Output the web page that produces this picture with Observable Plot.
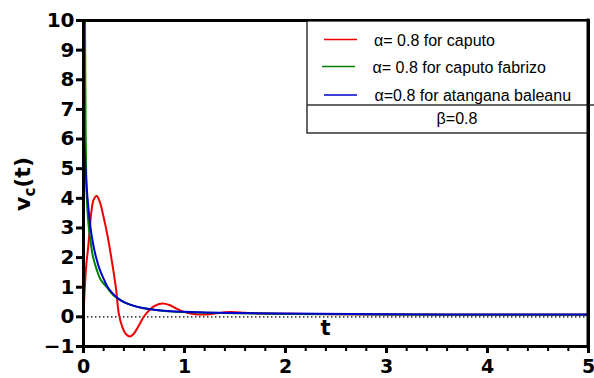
<!DOCTYPE html>
<html>
<head>
<meta charset="utf-8">
<script src="https://cdn.jsdelivr.net/npm/d3@7"></script>
<script src="https://cdn.jsdelivr.net/npm/@observablehq/plot@0.6"></script>
<style>
  html, body { margin: 0; padding: 0; background: #fff; }
</style>
</head>
<body>
<div id="chart"></div>
<script>
// ---- data ----
const seriesNames = ["α= 0.8 for caputo", "α= 0.8 for caputo fabrizo", "α=0.8 for atangana baleanu"];
const betaLabel = "β=0.8";

const tCaputo = [0, 0.01, 0.02, 0.03, 0.045, 0.06, 0.08, 0.1, 0.13, 0.16, 0.2, 0.24, 0.28, 0.32, 0.35, 0.38, 0.42, 0.46, 0.5, 0.55, 0.6, 0.65, 0.7, 0.78, 0.85, 0.92, 1.0, 1.1, 1.2, 1.3, 1.45, 1.6, 1.8, 2.2, 3, 4, 5];
const vCaputo = [0, 0.8, 1.4, 1.85, 2.3, 2.9, 3.6, 3.95, 4.08, 3.9, 3.35, 2.7, 1.9, 1.0, 0.1, -0.3, -0.58, -0.66, -0.56, -0.28, 0.02, 0.22, 0.36, 0.45, 0.4, 0.28, 0.16, 0.09, 0.08, 0.11, 0.16, 0.14, 0.11, 0.1, 0.08, 0.07, 0.07];

const tFabrizio = [0.012, 0.015, 0.018, 0.021, 0.026, 0.033, 0.053, 0.075, 0.096, 0.13, 0.17, 0.23, 0.3, 0.35, 0.4, 0.5, 0.6, 0.7, 0.8, 1.0, 1.2, 1.5, 2, 3, 4, 5];
const vFabrizio = [11, 10, 8, 6.3, 5.0, 4.0, 3.0, 2.4, 2.0, 1.6, 1.25, 1.0, 0.72, 0.6, 0.5, 0.37, 0.29, 0.24, 0.2, 0.16, 0.14, 0.12, 0.1, 0.08, 0.07, 0.07];

const tAB = [0, 0.005, 0.01, 0.02, 0.03, 0.04, 0.055, 0.07, 0.09, 0.125, 0.16, 0.2, 0.24, 0.3, 0.35, 0.4, 0.5, 0.6, 0.7, 0.8, 1.0, 1.2, 1.5, 2, 3, 4, 5];
const vAB = [6.35, 6.0, 5.6, 5.0, 4.45, 4.0, 3.45, 3.0, 2.55, 2.0, 1.6, 1.28, 1.0, 0.75, 0.6, 0.5, 0.37, 0.29, 0.24, 0.21, 0.17, 0.15, 0.13, 0.11, 0.09, 0.08, 0.08];

const colors = ["#ee0000", "#008000", "#0000cc"];
const xTicks = [0, 1, 2, 3, 4, 5];
const xMinorTicks = d3.range(0, 26).map(i => i / 5);
const yTicks = [-1, 0, 1, 2, 3, 4, 5, 6, 7, 8, 9, 10];

// ---- build tables ----
const dCaputo = tCaputo.map((t, i) => ({t, v: vCaputo[i]}));
const dFabrizio = tFabrizio.map((t, i) => ({t, v: vFabrizio[i]}));
const dAB = tAB.map((t, i) => ({t, v: vAB[i]}));

const W = 594, H = 378;
const plot = Plot.plot({
  width: W,
  height: H,
  marginLeft: 83,
  marginRight: 6,
  marginTop: 20,
  marginBottom: 32,
  style: {fontFamily: "DejaVu Sans", fontSize: "20px", fontWeight: "bold", color: "black", background: "white", overflow: "visible"},
  x: {domain: [0, 5], axis: null},
  y: {domain: [-1, 10], axis: null},
  marks: [
    Plot.ruleY([0], {stroke: "black", strokeWidth: 1.3, strokeDasharray: "1.5,2.5"}),
    Plot.line(dCaputo, {x: "t", y: "v", stroke: colors[0], strokeWidth: 2, curve: "catmull-rom", clip: true}),
    Plot.line(dFabrizio, {x: "t", y: "v", stroke: colors[1], strokeWidth: 2, curve: "catmull-rom", clip: true}),
    Plot.line(dAB, {x: "t", y: "v", stroke: colors[2], strokeWidth: 2, curve: "catmull-rom", clip: true}),
    Plot.frame({stroke: "black", strokeWidth: 3}),
    Plot.axisY(yTicks, {tickSize: 7, tickPadding: 2, strokeWidth: 3, label: null}),
    Plot.axisX(xMinorTicks, {tickSize: 5, strokeWidth: 2, tickFormat: () => "", label: null}),
    Plot.axisX(xTicks, {tickSize: 7, tickPadding: 6, strokeWidth: 3, fontSize: 19, label: null})
  ]
});
document.getElementById("chart").appendChild(plot);

// ---- annotations and legend ----
const svg = d3.select(plot);
const xs = plot.scale("x"), ys = plot.scale("y");

// y-axis title v_c(t)
const yt = svg.append("text")
  .attr("transform", `translate(30,${(ys.apply(10) + ys.apply(-1)) / 2 + 1}) rotate(-90)`)
  .attr("text-anchor", "middle")
  .attr("font-family", "DejaVu Sans")
  .attr("font-weight", "bold")
  .attr("font-size", 22)
  .attr("fill", "black");
yt.append("tspan").text("v");
yt.append("tspan").attr("font-size", 15).attr("dy", 5).text("c");
yt.append("tspan").attr("dy", -5).text("(t)");

// x-axis title "t" placed inside the plot
svg.append("text")
  .attr("x", xs.apply(2.4))
  .attr("y", ys.apply(-0.63))
  .attr("text-anchor", "middle")
  .attr("font-family", "DejaVu Sans")
  .attr("font-weight", "bold")
  .attr("font-size", 21)
  .attr("fill", "black")
  .text("t");

// legend box
const lg = svg.append("g").attr("font-family", "Liberation Sans").attr("font-weight", "normal").attr("font-size", 16).attr("text-anchor", "start");
lg.append("rect").attr("x", 307).attr("y", 21).attr("width", 281).attr("height", 112)
  .attr("fill", "white").attr("stroke", "black").attr("stroke-width", 1.2);
lg.append("line").attr("x1", 307).attr("x2", 594).attr("y1", 105).attr("y2", 105)
  .attr("stroke", "#333").attr("stroke-width", 1.4);
const rows = [
  {x1: 324, x2: 357, ly: 39.5, tx: 374, ty: 45.5},
  {x1: 322, x2: 355, ly: 66.5, tx: 372.5, ty: 72.5},
  {x1: 324, x2: 357, ly: 95, tx: 374.5, ty: 100.5}
];
rows.forEach((r, i) => {
  lg.append("line").attr("x1", r.x1).attr("x2", r.x2).attr("y1", r.ly).attr("y2", r.ly)
    .attr("stroke", colors[i]).attr("stroke-width", 1.3);
  lg.append("text").attr("x", r.tx).attr("y", r.ty).attr("text-anchor", "start").attr("fill", "black").text(seriesNames[i]);
});
lg.append("text").attr("x", 457).attr("y", 123.5).attr("text-anchor", "middle").attr("fill", "black").text(betaLabel);
// redraw right frame edge on top of legend
svg.append("line").attr("x1", xs.apply(5)).attr("x2", xs.apply(5)).attr("y1", ys.apply(10) - 1.5).attr("y2", ys.apply(-1) + 1.5)
  .attr("stroke", "black").attr("stroke-width", 3);
</script>
</body>
</html>
